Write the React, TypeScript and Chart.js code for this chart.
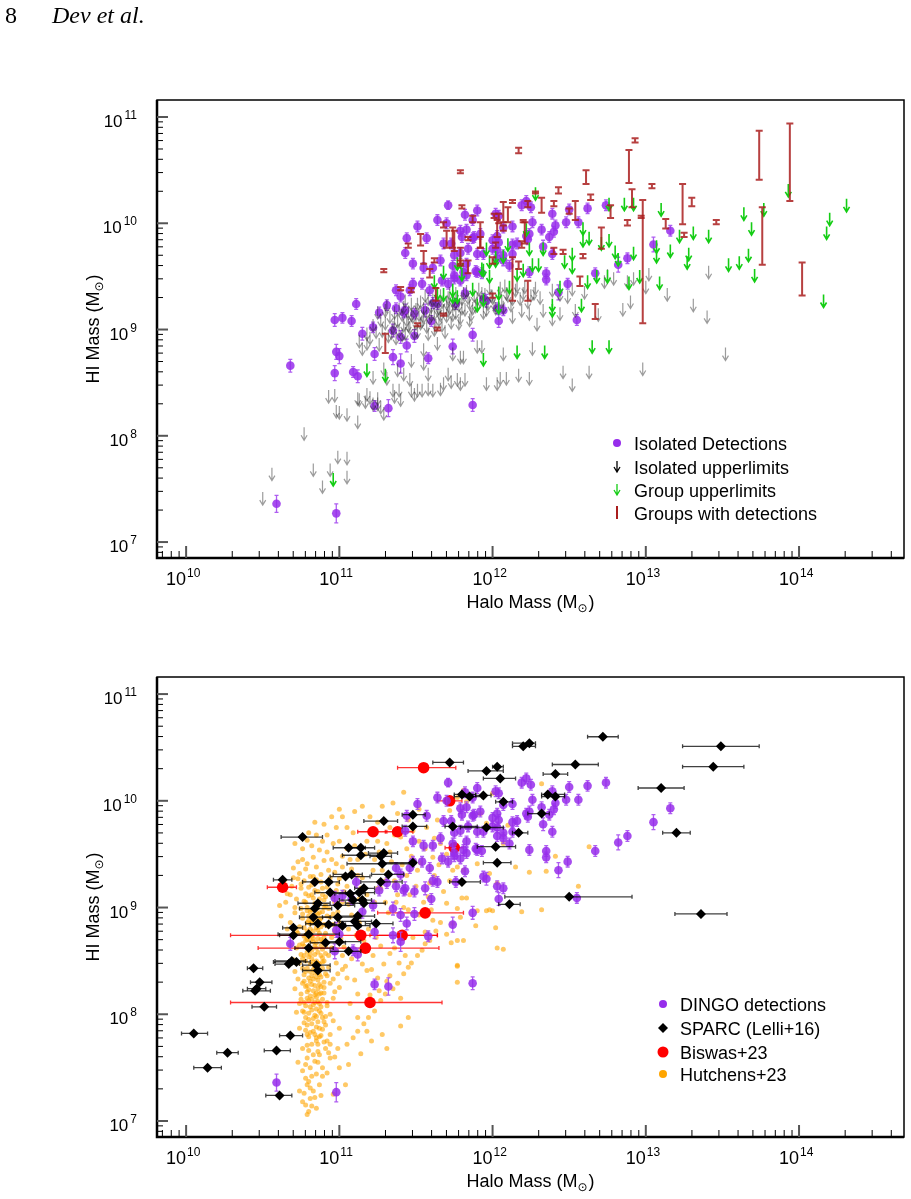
import React, { useEffect, useRef } from "react";
import { Chart, registerables } from "chart.js";

Chart.register(...registerables);

const SANS = '"Liberation Sans", Arial, Helvetica, sans-serif';
const SERIF = '"Liberation Serif", "Times New Roman", serif';

// Axis extents, in log10 of solar masses
const LOG_X_MIN = 9.81;
const LOG_X_MAX = 14.685;
const LOG_Y_MIN = 6.85;
const LOG_Y_MAX = 11.16;
const X_DECADES = [10, 11, 12, 13, 14];
const Y_DECADES = [7, 8, 9, 10, 11];

// DINGO isolated detections: [log Mhalo, log MHI, error (dex)]
const isoDetections: number[][] = [
  [10.68, 8.66, 0.06], [10.59, 7.36, 0.08], [10.98, 7.27, 0.09], [10.98, 8.79, 0.07], [11.0, 8.75, 0.07],
  [10.97, 8.59, 0.07], [11.09, 8.6, 0.05], [11.12, 8.56, 0.06], [11.15, 8.96, 0.06], [11.23, 8.77, 0.06],
  [11.35, 8.74, 0.07], [11.4, 8.68, 0.09], [11.44, 8.85, 0.06], [11.58, 8.73, 0.05], [11.74, 8.84, 0.07],
  [11.87, 8.95, 0.06], [11.23, 8.28, 0.05], [11.32, 8.26, 0.08], [11.87, 8.29, 0.06], [11.49, 8.94, 0.06],
  [11.4, 8.93, 0.06], [10.97, 9.09, 0.06], [11.02, 9.11, 0.05], [11.08, 9.08, 0.05], [11.11, 9.24, 0.05],
  [11.22, 9.02, 0.05], [11.26, 9.16, 0.05], [11.31, 9.23, 0.05], [11.37, 9.37, 0.05], [11.4, 9.31, 0.05],
  [11.43, 9.72, 0.05], [11.44, 9.86, 0.05], [11.48, 9.62, 0.05], [11.51, 9.97, 0.05], [11.57, 9.86, 0.05],
  [11.55, 9.58, 0.05], [11.54, 9.43, 0.05], [11.64, 10.03, 0.05], [11.71, 10.17, 0.04], [11.68, 9.81, 0.05],
  [11.73, 9.81, 0.05], [11.7, 10.0, 0.05], [11.79, 9.93, 0.05], [11.82, 10.08, 0.05], [11.84, 9.76, 0.05],
  [11.9, 10.12, 0.05], [11.87, 9.86, 0.05], [11.94, 9.71, 0.05], [12.02, 10.09, 0.05], [12.0, 9.84, 0.05],
  [12.03, 9.67, 0.05], [11.79, 9.46, 0.05], [11.83, 9.51, 0.05], [11.9, 9.54, 0.05], [11.96, 9.27, 0.06],
  [12.04, 9.08, 0.06], [11.82, 9.34, 0.05], [11.75, 9.51, 0.05], [11.66, 9.65, 0.05], [11.61, 9.58, 0.05],
  [11.59, 9.37, 0.05], [11.64, 9.24, 0.05], [11.48, 9.43, 0.05], [11.46, 9.37, 0.05], [11.43, 9.18, 0.06],
  [11.56, 9.18, 0.06], [11.67, 9.46, 0.05], [11.71, 9.43, 0.05], [11.35, 8.99, 0.06], [11.92, 9.9, 0.05],
  [11.87, 10.03, 0.05], [11.83, 9.94, 0.05], [11.88, 9.87, 0.05], [11.8, 9.87, 0.05], [11.79, 9.72, 0.05],
  [11.75, 9.7, 0.05], [11.83, 9.62, 0.05], [11.9, 9.71, 0.05], [11.89, 9.55, 0.05], [11.93, 9.53, 0.05],
  [11.81, 9.54, 0.05], [11.74, 9.6, 0.05], [11.75, 9.48, 0.05], [12.04, 10.07, 0.05], [12.03, 9.88, 0.05],
  [12.04, 9.82, 0.05], [12.0, 9.76, 0.05], [12.03, 9.75, 0.05], [12.07, 9.96, 0.05], [12.13, 9.97, 0.05],
  [12.07, 9.7, 0.05], [12.13, 9.8, 0.05], [12.16, 9.81, 0.05], [12.13, 9.71, 0.05], [12.07, 9.65, 0.05],
  [12.11, 9.6, 0.05], [12.19, 10.17, 0.05], [12.22, 10.21, 0.05], [12.25, 10.15, 0.05], [12.26, 10.01, 0.05],
  [12.24, 9.9, 0.05], [12.22, 9.88, 0.05], [12.23, 9.85, 0.05], [12.24, 9.54, 0.05], [12.32, 9.94, 0.05],
  [12.33, 9.78, 0.06], [12.37, 9.87, 0.05], [12.39, 9.71, 0.05], [12.39, 10.09, 0.05], [12.41, 9.98, 0.05],
  [12.4, 9.92, 0.05], [12.48, 10.01, 0.05], [12.5, 10.13, 0.05], [12.56, 10.01, 0.05], [12.62, 10.14, 0.05],
  [12.74, 10.17, 0.05], [12.43, 9.35, 0.07], [12.49, 9.43, 0.05], [12.35, 9.53, 0.05], [12.35, 9.47, 0.05],
  [12.55, 9.09, 0.05], [12.07, 9.18, 0.05], [12.03, 9.2, 0.05], [11.94, 9.29, 0.05], [11.76, 9.24, 0.05],
  [12.67, 9.53, 0.05], [12.82, 9.61, 0.07], [12.88, 9.67, 0.05], [13.05, 9.8, 0.07], [13.16, 9.93, 0.05],
  [11.37, 9.2, 0.05], [11.42, 9.16, 0.05], [11.61, 9.25, 0.05], [11.6, 9.08, 0.05], [11.49, 9.15, 0.05],
];

// Isolated upper limits: [log Mhalo, log MHI limit]
const isoUpperLimits: number[][] = [
  [10.5, 7.47], [10.56, 7.7], [10.77, 8.08], [10.83, 7.74], [10.89, 7.58], [10.94, 7.74], [10.99, 7.86],
  [11.05, 7.85], [11.05, 7.67], [10.93, 8.43], [10.97, 8.44], [10.98, 8.29], [11.0, 8.28], [11.05, 8.26],
  [11.12, 8.19], [11.12, 8.41], [11.13, 8.4], [11.18, 8.93], [11.18, 8.45], [11.17, 8.38], [11.2, 8.42],
  [11.22, 8.61], [11.22, 8.36], [11.25, 8.41], [11.25, 8.36], [11.27, 8.33], [11.29, 8.69], [11.31, 8.6],
  [11.29, 8.27], [11.35, 8.49], [11.36, 8.43], [11.39, 8.49], [11.4, 8.4], [11.38, 8.68], [11.42, 8.64],
  [11.47, 8.77], [11.46, 8.59], [11.47, 8.49], [11.49, 8.45], [11.51, 8.49], [11.54, 8.49], [11.55, 8.87],
  [11.55, 8.74], [11.58, 8.5], [11.61, 8.49], [11.58, 8.64], [11.64, 8.93], [11.66, 8.5], [11.68, 8.55],
  [11.71, 8.64], [11.73, 8.57], [11.79, 8.8], [11.81, 8.8], [11.77, 8.59], [11.82, 8.59], [11.9, 8.9],
  [11.93, 8.9], [11.96, 8.55], [12.03, 8.55], [11.79, 8.55], [11.74, 8.83], [12.07, 8.83], [12.05, 8.6],
  [12.09, 8.6], [12.17, 8.63], [12.24, 8.6], [12.26, 8.88], [12.46, 8.66], [12.52, 8.54], [12.63, 8.66],
  [12.98, 8.69], [13.52, 8.83], [13.02, 9.58], [13.0, 9.46], [13.14, 9.39], [13.41, 9.6], [13.31, 9.29],
  [13.4, 9.18], [12.9, 9.32], [12.85, 9.25], [12.92, 9.54], [12.88, 9.51], [12.79, 9.54], [12.75, 9.57],
  [12.73, 9.51], [12.69, 9.2], [12.6, 9.41], [12.54, 9.24], [12.49, 9.37], [12.44, 9.21], [12.39, 9.16],
  [12.33, 9.24], [12.29, 9.11], [12.24, 9.21], [12.19, 9.24], [12.13, 9.18], [12.44, 9.39], [12.39, 9.43],
  [12.52, 9.44], [11.2, 8.98], [11.24, 9.04], [11.26, 8.92], [11.15, 8.88], [11.3, 9.24],
  [11.28, 9.05], [11.3, 9.12], [11.32, 9.0], [11.33, 9.18], [11.35, 9.08], [11.36, 9.22], [11.37, 8.98],
  [11.38, 9.14], [11.39, 9.05], [11.41, 9.2], [11.42, 9.1], [11.42, 9.27], [11.43, 9.02], [11.44, 9.15],
  [11.45, 9.22], [11.46, 9.08], [11.47, 9.3], [11.48, 9.18], [11.5, 9.12], [11.5, 9.25], [11.51, 9.04],
  [11.52, 9.2], [11.53, 9.32], [11.54, 9.14], [11.55, 9.26], [11.57, 9.09], [11.57, 9.22], [11.58, 9.35],
  [11.59, 9.17], [11.6, 9.28], [11.62, 9.06], [11.62, 9.21], [11.63, 9.33], [11.65, 9.15], [11.65, 9.26],
  [11.66, 9.38], [11.67, 9.1], [11.68, 9.24], [11.7, 9.31], [11.7, 9.19], [11.71, 9.36], [11.72, 9.27],
  [11.73, 9.13], [11.74, 9.33], [11.76, 9.22], [11.76, 9.4], [11.78, 9.29], [11.79, 9.17], [11.8, 9.35],
  [11.82, 9.25], [11.83, 9.42], [11.85, 9.31], [11.86, 9.2], [11.88, 9.38], [11.89, 9.28], [11.91, 9.44],
  [11.92, 9.33], [11.94, 9.22], [11.95, 9.39], [11.97, 9.3], [11.98, 9.45], [12.0, 9.36], [12.02, 9.26],
  [12.04, 9.41], [12.06, 9.33], [12.08, 9.47], [12.1, 9.38], [12.12, 9.29], [12.15, 9.43], [12.18, 9.35],
  [12.21, 9.46], [12.25, 9.38], [12.28, 9.45], [12.31, 9.36],
  [11.27, 9.15], [11.31, 9.28], [11.34, 9.03], [11.36, 9.12], [11.39, 9.25], [11.41, 9.01], [11.43, 9.33],
  [11.45, 9.1], [11.47, 9.2], [11.49, 9.03], [11.51, 9.3], [11.53, 9.12], [11.55, 9.18], [11.56, 9.38],
  [11.58, 9.02], [11.6, 9.2], [11.61, 9.34], [11.63, 9.1], [11.64, 9.25], [11.66, 9.2], [11.67, 9.32],
  [11.69, 9.04], [11.71, 9.24], [11.72, 9.4], [11.74, 9.2], [11.75, 9.3], [11.77, 9.35], [11.78, 9.12],
  [11.8, 9.26], [11.81, 9.4], [11.84, 9.36], [11.85, 9.15], [11.87, 9.26], [11.9, 9.35], [11.93, 9.4],
  [11.96, 9.25], [11.99, 9.38], [12.01, 9.3], [12.05, 9.45], [12.07, 9.27], [12.09, 9.4], [12.13, 9.35],
  [12.16, 9.47], [12.2, 9.4], [12.23, 9.32], [12.27, 9.4], [11.22, 9.1], [11.18, 9.02], [11.25, 9.22],
  [11.13, 8.95],
];

// Group upper limits: [log Mhalo, log MHI limit]
const groupUpperLimits: number[][] = [
  [12.28, 10.34], [12.76, 10.24], [12.86, 10.24], [12.92, 10.24], [13.1, 10.19], [13.93, 10.37],
  [13.77, 10.19], [14.31, 10.23], [14.2, 10.1], [14.18, 9.97], [13.64, 10.15], [13.69, 10.01],
  [13.41, 9.94], [13.31, 9.97], [13.22, 9.94], [13.28, 9.77], [13.27, 9.69], [13.16, 9.8], [13.07, 9.75],
  [13.07, 9.84], [13.54, 9.67], [13.61, 9.69], [13.67, 9.76], [13.71, 9.57], [14.16, 9.33], [13.09, 9.5],
  [12.96, 9.56], [12.89, 9.5], [12.92, 9.78], [12.8, 9.79], [12.82, 9.72], [12.76, 9.9], [12.71, 9.87],
  [12.63, 9.92], [12.59, 10.01], [12.59, 9.9], [12.75, 9.56], [12.68, 9.56], [12.62, 9.51], [12.58, 9.29],
  [12.39, 9.24], [12.44, 9.46], [12.47, 9.7], [12.52, 9.77], [12.52, 9.65], [12.33, 9.82], [12.3, 9.67],
  [12.24, 9.82], [12.22, 10.0], [12.26, 9.67], [12.2, 9.62], [12.16, 9.58], [12.1, 9.86], [12.07, 9.75],
  [12.02, 9.71], [11.98, 9.7], [11.94, 9.62], [11.96, 9.82], [11.98, 9.56], [12.04, 9.4], [12.11, 9.46],
  [11.87, 9.44], [11.79, 9.7], [11.77, 9.37], [11.74, 9.43], [11.94, 9.34], [12.39, 9.29], [12.02, 9.74],
  [11.93, 9.63], [11.77, 9.68], [11.8, 9.58], [11.68, 9.6], [11.62, 9.51], [11.64, 9.4], [11.68, 9.39],
  [11.74, 9.37], [11.9, 9.29], [12.04, 9.27], [11.18, 8.68], [11.3, 8.63], [10.96, 7.65], [11.94, 8.78],
  [12.16, 8.85], [12.34, 8.85], [12.65, 8.9], [12.76, 8.9],
];

// Groups with detections: [log Mhalo, log MHI low, log MHI high]
const groupDetections: number[][] = [
  [11.79, 10.47, 10.5], [12.17, 10.66, 10.71], [12.93, 10.76, 10.8], [12.89, 10.38, 10.69],
  [13.04, 10.33, 10.37], [13.24, 9.99, 10.37], [13.3, 10.16, 10.24], [13.46, 9.99, 10.03],
  [13.74, 10.41, 10.87], [13.94, 10.21, 10.94], [13.76, 9.61, 10.15], [14.02, 9.32, 9.63],
  [12.98, 9.06, 10.22], [12.97, 10.05, 10.07], [13.13, 9.95, 10.04], [13.25, 9.87, 9.91],
  [12.88, 9.98, 10.03], [12.91, 10.15, 10.32], [12.77, 10.05, 10.17], [12.71, 9.76, 9.96],
  [12.67, 9.1, 9.24], [12.61, 10.37, 10.5], [12.64, 10.22, 10.27], [12.57, 9.41, 9.5],
  [12.59, 9.67, 9.71], [12.54, 10.03, 10.21], [12.5, 10.09, 10.14], [12.43, 10.28, 10.34],
  [12.4, 10.16, 10.21], [12.32, 10.1, 10.24], [12.28, 10.28, 10.3], [12.23, 10.15, 10.21],
  [12.2, 10.01, 10.03], [12.21, 9.81, 10.01], [12.19, 9.77, 9.83], [12.23, 9.27, 9.46],
  [12.17, 9.57, 9.64], [12.13, 9.27, 9.68], [12.13, 10.19, 10.22], [12.07, 10.01, 10.2],
  [12.1, 10.01, 10.15], [12.04, 10.0, 10.09], [12.07, 9.93, 9.98], [12.02, 9.77, 9.82],
  [12.0, 9.3, 9.34], [12.0, 9.62, 9.68], [11.92, 9.77, 10.01], [11.87, 10.01, 10.07],
  [11.8, 10.14, 10.17], [11.74, 9.77, 9.96], [11.84, 9.53, 9.65], [11.79, 9.6, 9.65],
  [12.4, 9.71, 9.77], [12.46, 9.71, 9.75], [11.29, 9.54, 9.57], [11.45, 9.77, 9.81],
  [11.53, 9.79, 9.9], [11.4, 9.37, 9.4], [11.47, 9.35, 9.39], [11.55, 9.62, 9.74],
  [11.59, 9.49, 9.57], [11.62, 9.63, 9.67], [11.68, 9.96, 10.01], [11.7, 9.77, 9.93],
  [11.75, 9.74, 9.93], [11.79, 9.62, 9.77], [11.84, 9.84, 9.87], [11.92, 9.77, 9.87],
  [11.63, 9.27, 9.39], [11.64, 8.99, 9.02], [11.68, 9.13, 9.15], [11.51, 9.03, 9.06],
  [12.01, 10.05, 10.09], [12.03, 9.87, 10.03], [11.3, 8.78, 8.96],
];

// SPARC (Lelli+16): [log Mhalo, log MHI, log Mhalo low, log Mhalo high]
const sparcGalaxies: number[][] = [
  [11.72, 10.36, 11.61, 11.81], [11.96, 10.28, 11.84, 12.07], [12.03, 10.32, 12.0, 12.07],
  [12.05, 10.21, 11.94, 12.15], [12.2, 10.51, 12.13, 12.28], [12.24, 10.54, 12.13, 12.28],
  [12.72, 10.6, 12.62, 12.82], [13.49, 10.51, 13.24, 13.74], [13.44, 10.32, 13.24, 13.64],
  [12.54, 10.34, 12.39, 12.69], [12.41, 10.25, 12.33, 12.49], [13.1, 10.12, 12.95, 13.25],
  [13.2, 9.7, 13.11, 13.29], [13.36, 8.94, 13.19, 13.53], [12.5, 9.1, 12.08, 12.91],
  [12.11, 9.03, 12.04, 12.18], [11.8, 9.24, 11.72, 11.92], [12.03, 9.42, 11.94, 12.12],
  [12.02, 9.57, 11.9, 12.15], [12.17, 9.7, 12.13, 12.23], [12.32, 9.88, 12.23, 12.37],
  [12.36, 10.06, 12.32, 12.47], [12.41, 10.04, 12.32, 12.47], [12.07, 9.99, 12.02, 12.13],
  [11.94, 10.05, 11.89, 11.99], [11.85, 10.04, 11.75, 11.93], [11.8, 10.06, 11.75, 11.89],
  [11.74, 9.76, 11.69, 11.9], [11.96, 9.75, 11.79, 12.07], [10.76, 9.66, 10.62, 10.89],
  [11.29, 9.81, 11.16, 11.38], [11.48, 9.87, 11.41, 11.56], [11.48, 9.76, 11.41, 11.57],
  [11.06, 9.56, 10.96, 11.17], [11.14, 9.56, 11.07, 11.23], [11.14, 9.49, 11.02, 11.25],
  [11.29, 9.51, 11.19, 11.38], [11.27, 9.48, 11.2, 11.34], [11.28, 9.41, 11.05, 11.48],
  [11.48, 9.42, 11.28, 11.49], [11.32, 9.31, 11.21, 11.42], [11.27, 9.24, 11.14, 11.41],
  [11.04, 9.29, 10.94, 11.2], [11.08, 9.31, 10.96, 11.15], [10.93, 9.24, 10.83, 11.0],
  [10.84, 9.24, 10.76, 10.95], [10.63, 9.26, 10.57, 10.69], [10.94, 9.14, 10.84, 11.14],
  [11.07, 9.13, 10.97, 11.17], [11.13, 9.14, 11.04, 11.23], [11.16, 9.18, 11.1, 11.23],
  [11.09, 9.07, 11.0, 11.17], [11.15, 9.07, 11.07, 11.21], [10.86, 9.04, 10.73, 10.94],
  [10.84, 8.99, 10.74, 10.95], [10.99, 9.02, 10.87, 11.1], [11.16, 9.04, 11.04, 11.3],
  [10.83, 8.91, 10.74, 10.94], [10.99, 8.91, 10.89, 11.14], [11.12, 8.92, 11.0, 11.23],
  [10.86, 8.85, 10.78, 10.97], [10.93, 8.84, 10.81, 11.04], [11.02, 8.83, 10.91, 11.14],
  [11.1, 8.87, 11.0, 11.21], [11.12, 8.83, 11.04, 11.2], [11.24, 8.85, 11.17, 11.35],
  [10.7, 8.81, 10.63, 10.76], [10.7, 8.74, 10.61, 10.81], [10.8, 8.75, 10.6, 11.0],
  [10.91, 8.67, 10.81, 11.04], [11.0, 8.68, 10.91, 11.14], [10.8, 8.62, 10.71, 10.96],
  [11.06, 8.59, 10.94, 11.14], [10.69, 8.5, 10.58, 10.78], [10.67, 8.47, 10.58, 10.74],
  [10.72, 8.49, 10.57, 10.81], [10.85, 8.46, 10.76, 10.94], [10.86, 8.41, 10.76, 10.94],
  [10.44, 8.43, 10.4, 10.5], [10.48, 8.3, 10.42, 10.56], [10.46, 8.24, 10.4, 10.52],
  [10.45, 8.22, 10.37, 10.55], [10.51, 8.07, 10.43, 10.59], [10.05, 7.82, 9.97, 10.14],
  [10.27, 7.64, 10.2, 10.34], [10.14, 7.5, 10.05, 10.23], [10.68, 7.8, 10.61, 10.76],
  [10.59, 7.66, 10.51, 10.68], [10.61, 7.24, 10.52, 10.69],
];

// Biswas+23: [log Mhalo, log MHI, log Mhalo low, log Mhalo high]
const biswasGalaxies: number[][] = [
  [11.55, 10.31, 11.38, 11.76], [11.72, 10.0, 11.64, 11.8], [11.22, 9.71, 11.12, 11.31],
  [11.38, 9.71, 11.3, 11.48], [10.63, 9.19, 10.53, 10.72], [11.75, 9.56, 11.69, 11.81],
  [11.56, 8.95, 11.25, 11.81], [11.14, 8.74, 10.29, 11.64], [11.41, 8.74, 11.2, 11.64],
  [11.17, 8.62, 10.47, 11.65], [11.2, 8.11, 10.29, 11.67],
];

// Hutchens+23: [log Mhalo, log MHI]
const hutchensGalaxies: number[][] = [
  [10.74, 9.32], [10.79, 9.41], [10.83, 9.47], [10.87, 9.54], [10.96, 9.6], [10.78, 9.36], [10.85, 9.38],
  [10.9, 9.44], [10.81, 9.29], [10.88, 9.31], [10.93, 9.35], [10.76, 9.45], [10.98, 9.41], [11.02, 9.48],
  [10.7, 9.37], [10.61, 9.02], [10.66, 9.13], [10.72, 9.08], [10.75, 9.18], [10.77, 9.25], [10.8, 9.11],
  [10.82, 9.21], [10.84, 9.04], [10.86, 9.15], [10.88, 9.24], [10.9, 9.07], [10.92, 9.19], [10.94, 9.28],
  [10.96, 9.1], [10.99, 9.22], [11.03, 9.15], [11.06, 9.03], [10.73, 9.27], [10.79, 9.0], [10.83, 9.29],
  [10.89, 9.12], [10.69, 9.2], [10.64, 9.25], [10.77, 9.06], [10.91, 9.02], [10.71, 8.95], [10.74, 8.82],
  [10.76, 8.9], [10.78, 8.74], [10.79, 8.97], [10.81, 8.85], [10.83, 8.71], [10.84, 8.93], [10.86, 8.79],
  [10.87, 8.88], [10.89, 8.96], [10.9, 8.72], [10.92, 8.83], [10.94, 8.91], [10.97, 8.77], [11.0, 8.86],
  [10.73, 8.76], [10.8, 8.92], [10.85, 8.81], [10.88, 8.7], [10.82, 8.98], [10.75, 8.99], [10.93, 8.99],
  [10.68, 8.86], [10.96, 8.94], [10.72, 8.62], [10.74, 8.48], [10.76, 8.66], [10.77, 8.55], [10.79, 8.43],
  [10.8, 8.61], [10.82, 8.52], [10.83, 8.68], [10.84, 8.45], [10.86, 8.58], [10.87, 8.41], [10.88, 8.64],
  [10.9, 8.5], [10.91, 8.57], [10.93, 8.44], [10.95, 8.62], [10.78, 8.69], [10.81, 8.47], [10.85, 8.67],
  [10.89, 8.53], [10.75, 8.56], [10.92, 8.67], [10.98, 8.48], [10.7, 8.51], [10.73, 8.33], [10.75, 8.19],
  [10.77, 8.37], [10.78, 8.26], [10.8, 8.13], [10.81, 8.31], [10.83, 8.22], [10.84, 8.39], [10.85, 8.16],
  [10.87, 8.28], [10.88, 8.35], [10.9, 8.2], [10.92, 8.11], [10.94, 8.29], [10.79, 8.21], [10.82, 8.36],
  [10.86, 8.24], [10.89, 8.14], [10.76, 8.29], [10.91, 8.38], [10.74, 8.1], [10.97, 8.21], [10.96, 8.33],
  [10.74, 7.87], [10.76, 8.03], [10.78, 7.97], [10.79, 7.81], [10.81, 8.07], [10.82, 7.91], [10.84, 7.99],
  [10.85, 8.05], [10.85, 7.78], [10.87, 7.87], [10.88, 8.01], [10.9, 7.93], [10.92, 8.08], [10.94, 7.81],
  [10.8, 7.95], [10.83, 7.84], [10.86, 7.93], [10.89, 7.86], [10.77, 7.92], [10.91, 7.98], [10.96, 7.94],
  [10.94, 8.0], [10.79, 7.06], [10.8, 7.09], [10.76, 7.18], [10.81, 7.21], [10.74, 7.28], [10.83, 7.28],
  [10.79, 7.34], [10.87, 7.34], [10.85, 7.44], [10.76, 7.47], [10.81, 7.5], [10.89, 7.5], [10.84, 7.56],
  [10.79, 7.59], [10.94, 7.59], [10.86, 7.65], [10.76, 7.68], [10.82, 7.72], [10.91, 7.68], [10.85, 7.75],
  [10.79, 7.71], [10.94, 7.72], [10.87, 7.62], [10.78, 7.4], [10.82, 7.14], [10.88, 7.24], [10.92, 7.45],
  [10.96, 7.25], [11.04, 7.34], [10.73, 7.55], [11.0, 7.5], [11.06, 7.53], [11.14, 7.63], [10.99, 7.68],
  [11.05, 7.72], [11.09, 7.78], [11.12, 7.84], [11.16, 7.91], [11.19, 7.97], [11.23, 8.03], [11.27, 8.13],
  [11.3, 8.19], [11.35, 8.24], [11.38, 8.29], [11.42, 8.38], [11.45, 8.44], [11.47, 8.48], [11.51, 8.55],
  [11.54, 8.6], [11.56, 8.66], [11.59, 8.69], [11.12, 7.97], [11.18, 7.84], [11.31, 8.31], [11.4, 8.15],
  [11.25, 8.34], [11.18, 8.41], [11.12, 8.19], [11.05, 8.34], [11.0, 8.25], [10.96, 8.15], [11.0, 7.87],
  [10.92, 7.75], [11.45, 7.97], [11.4, 7.89], [11.28, 7.81], [11.31, 7.68], [11.21, 7.75], [11.02, 8.42],
  [11.08, 8.52], [11.14, 8.6], [11.22, 8.55], [11.29, 8.47], [11.36, 8.62], [11.48, 8.72], [11.63, 8.78],
  [10.84, 9.8], [11.42, 10.08], [11.33, 9.75], [11.09, 9.7], [11.22, 9.35], [11.31, 9.6], [11.4, 9.66],
  [11.48, 9.72], [11.57, 9.75], [11.64, 9.82], [11.72, 9.91], [11.77, 10.03], [11.81, 10.1], [11.61, 9.47],
  [11.74, 9.35], [11.83, 9.09], [11.96, 8.97], [11.51, 9.35], [11.59, 9.23], [11.7, 9.04], [11.79, 8.91],
  [11.05, 9.55], [11.12, 9.45], [11.18, 9.62], [11.26, 9.52], [11.34, 9.43], [11.44, 9.55], [11.52, 9.62],
  [11.15, 9.28], [11.25, 9.18], [11.36, 9.25], [11.46, 9.12], [11.55, 9.05], [11.1, 9.9], [11.2, 9.85],
  [11.28, 9.95], [11.38, 9.88], [11.52, 9.92], [10.98, 9.75], [11.02, 9.85], [10.92, 9.68], [11.66, 9.6],
  [11.7, 9.5], [11.62, 9.3], [11.42, 9.0], [11.3, 9.05], [11.18, 9.12], [11.08, 9.36], [11.0, 9.62],
  [10.71, 9.6], [11.83, 9.99], [11.92, 9.88], [11.96, 9.79], [12.0, 10.07], [12.1, 9.77], [12.07, 9.6],
  [12.15, 9.38], [12.24, 9.33], [12.35, 9.34], [12.41, 9.48], [12.32, 10.16], [12.63, 9.57], [12.56, 9.2],
  [12.32, 8.98], [12.19, 8.96], [12.0, 8.97], [11.98, 8.98], [11.9, 8.97], [11.89, 8.83], [12.02, 8.81],
  [11.8, 9.09], [11.81, 9.35], [11.77, 9.38], [11.9, 9.41], [11.98, 9.32], [12.03, 9.23], [11.77, 8.99],
  [11.77, 8.69], [11.81, 8.69], [11.73, 8.67], [12.03, 8.62], [12.07, 8.61], [11.77, 8.46], [11.77, 8.3],
  [11.61, 8.88], [11.74, 8.85], [11.56, 8.77], [11.77, 8.45], [10.62, 8.92], [10.66, 8.8], [10.65, 9.05],
  [10.68, 8.65], [10.77, 8.02], [10.8, 8.88], [10.82, 8.6], [10.85, 8.35], [10.87, 8.95], [10.79, 8.15],
  [10.83, 8.78], [10.86, 8.48], [10.88, 8.07], [10.81, 8.4], [10.84, 8.11], [10.78, 8.5], [10.86, 8.71],
  [10.8, 8.23], [10.89, 8.43], [10.83, 9.09], [10.77, 8.81], [10.85, 8.9], [10.81, 8.69], [10.87, 8.19],
  [10.79, 8.58], [10.84, 8.27], [10.88, 8.82], [10.82, 8.04], [10.86, 8.39], [10.8, 8.75], [10.84, 9.16],
  [10.78, 9.13], [10.83, 7.96], [10.87, 7.79], [10.81, 7.83], [10.79, 7.9], [10.85, 7.88], [10.88, 8.55],
  [10.9, 8.3], [10.76, 8.43], [10.74, 8.65], [10.91, 8.76], [10.93, 8.55], [10.9, 9.0], [10.82, 8.14],
  [10.8, 8.34], [10.85, 8.62], [10.87, 8.1], [10.83, 8.49], [10.79, 8.78], [10.86, 9.0], [10.81, 8.96],
  [10.84, 8.56], [10.88, 8.26], [10.78, 8.08], [10.82, 8.87], [10.86, 8.32], [10.8, 8.54], [10.85, 8.2],
  [10.77, 8.73], [10.83, 8.42], [10.89, 8.61], [10.81, 8.17], [10.87, 8.47],
  [10.75, 9.22], [10.78, 9.05], [10.8, 9.19], [10.82, 9.12], [10.85, 9.26], [10.87, 9.08], [10.89, 9.18],
  [10.91, 9.1], [10.93, 9.23], [10.76, 8.94], [10.79, 8.86], [10.81, 8.8], [10.84, 8.86], [10.86, 8.94],
  [10.88, 8.9], [10.9, 8.84], [10.92, 8.92], [10.77, 8.64], [10.79, 8.7], [10.82, 8.73], [10.84, 8.64],
  [10.87, 8.76], [10.89, 8.68], [10.91, 8.64], [10.76, 8.52], [10.78, 8.4], [10.81, 8.56], [10.83, 8.33],
  [10.85, 8.5], [10.87, 8.37], [10.89, 8.49], [10.92, 8.36], [10.77, 8.31], [10.79, 8.27], [10.82, 8.28],
  [10.84, 8.18], [10.86, 8.12], [10.88, 8.2], [10.9, 8.25], [10.75, 8.14], [10.77, 8.11], [10.8, 8.01],
  [10.83, 8.09], [10.85, 7.98], [10.87, 8.03], [10.89, 7.97], [10.91, 7.9], [10.78, 7.85], [10.8, 7.79],
  [10.84, 7.81], [10.86, 7.72], [10.88, 7.8], [10.9, 7.74], [10.8, 7.66], [10.83, 7.62], [10.78, 7.53],
  [10.82, 7.42], [10.86, 7.55], [10.8, 7.37], [10.84, 7.22], [10.77, 7.26], [10.85, 7.12], [10.81, 7.31],
  [10.78, 7.15], [10.89, 7.42], [10.93, 7.64], [10.97, 7.6], [10.72, 8.02], [10.71, 8.24], [10.71, 8.4],
  [10.72, 8.78], [10.71, 9.0], [10.95, 8.72], [10.96, 8.84], [10.97, 9.05], [10.99, 8.96], [11.01, 8.71],
  [10.98, 8.6], [11.02, 8.55], [10.99, 8.38], [11.04, 8.45], [11.03, 8.63], [11.06, 8.8], [11.08, 8.93],
  [11.11, 8.74], [11.13, 8.86], [11.16, 8.69], [11.19, 8.8], [11.24, 8.72], [11.27, 8.64], [11.33, 8.57],
  [11.39, 8.48], [11.43, 8.55], [11.07, 8.1], [11.1, 8.32], [11.15, 8.47], [11.21, 8.42], [11.26, 8.22],
  [11.33, 8.36], [11.2, 8.18], [10.68, 9.12], [10.7, 9.28], [10.73, 9.43], [10.76, 9.55], [10.79, 9.63],
  [10.82, 9.58], [10.85, 9.68], [10.89, 9.62], [10.92, 9.52], [10.95, 9.45], [10.97, 9.33], [11.0, 9.27],
  [11.02, 9.38], [11.05, 9.2], [11.07, 9.45], [11.1, 9.58], [11.12, 9.3], [11.14, 9.18], [11.17, 9.5],
  [11.2, 9.72], [11.23, 9.45], [11.25, 9.62], [11.28, 9.35], [11.3, 9.25], [11.33, 9.52], [11.36, 9.68],
  [11.38, 9.12], [11.41, 9.4], [11.44, 9.3], [11.47, 9.48], [11.5, 9.2], [11.53, 9.42], [11.56, 9.55],
  [11.58, 9.1], [11.62, 9.65], [11.65, 9.4], [11.68, 9.15], [11.72, 9.25], [11.75, 9.58], [10.8, 9.7],
  [10.9, 9.78], [11.0, 9.92], [11.15, 9.95], [11.25, 9.8], [11.35, 9.98], [11.45, 9.82], [10.95, 9.85],
  [11.05, 9.75], [11.13, 9.08], [11.23, 9.05], [11.27, 9.18], [11.32, 8.95], [11.37, 9.05], [11.45, 8.98],
  [11.52, 8.93], [11.6, 8.98], [11.66, 8.86], [11.7, 8.75], [11.02, 9.05], [10.98, 9.16],
];

const PURPLE = "rgba(150,45,235,0.85)";
const PURPLE_BAR = "rgba(165,75,240,0.9)";
const GREY_ARROW = "rgba(35,35,35,0.45)";
const GREEN = "rgb(20,205,20)";
const GROUP_RED = "rgba(170,30,30,0.85)";
const ORANGE = "rgba(255,165,0,0.6)";
const BISWAS_RED = "rgb(255,0,0)";

const dex = (v: number) => Math.pow(10, v);

type LegendRow = { mark: string; color: string; label: string };

function drawArrow(ctx: CanvasRenderingContext2D, x: number, y: number, len: number) {
  ctx.beginPath();
  ctx.moveTo(x, y);
  ctx.lineTo(x, y + len);
  ctx.moveTo(x - 3, y + len - 5);
  ctx.lineTo(x, y + len);
  ctx.lineTo(x + 3, y + len - 5);
  ctx.stroke();
}

function drawMassTitle(ctx: CanvasRenderingContext2D, cx: number, base: number, text: string) {
  ctx.font = `18px ${SANS}`;
  const w1 = ctx.measureText(text).width;
  const w3 = ctx.measureText(")").width;
  ctx.font = `12px "DejaVu Sans", ${SANS}`;
  const w2 = ctx.measureText("\u2299").width;
  let x = cx - (w1 + w2 + w3 + 1) / 2;
  ctx.textAlign = "left";
  ctx.textBaseline = "alphabetic";
  ctx.font = `18px ${SANS}`;
  ctx.fillText(text, x, base);
  x += w1;
  ctx.font = `12px "DejaVu Sans", ${SANS}`;
  ctx.fillText("\u2299", x, base + 4);
  x += w2 + 1;
  ctx.font = `18px ${SANS}`;
  ctx.fillText(")", x, base);
}

function decorPlugin(legend: LegendRow[], legendX: number, legendY: number[], withHeader: boolean) {
  return {
    id: "decor",
    beforeDatasetDraw(chart: any, args: any) {
      const ds: any = chart.data.datasets[args.index];
      const ctx: CanvasRenderingContext2D = chart.ctx;
      const xs = chart.scales.x;
      const ys = chart.scales.y;
      const pts = args.meta.data;
      ctx.save();
      if (ds.kind === "det") {
        ctx.strokeStyle = PURPLE_BAR;
        ctx.lineWidth = 1.3;
        ds.data.forEach((d: any, i: number) => {
          const px = pts[i].x;
          const y1 = ys.getPixelForValue(d.lo);
          const y2 = ys.getPixelForValue(d.hi);
          ctx.beginPath();
          ctx.moveTo(px, y1);
          ctx.lineTo(px, y2);
          ctx.moveTo(px - 2, y1);
          ctx.lineTo(px + 2, y1);
          ctx.moveTo(px - 2, y2);
          ctx.lineTo(px + 2, y2);
          ctx.stroke();
        });
      } else if (ds.kind === "xbar") {
        ctx.strokeStyle = ds.barColor;
        ctx.lineWidth = 1.3;
        ds.data.forEach((d: any, i: number) => {
          const py = pts[i].y;
          const x1 = xs.getPixelForValue(d.xlo);
          const x2 = xs.getPixelForValue(d.xhi);
          ctx.beginPath();
          ctx.moveTo(x1, py);
          ctx.lineTo(x2, py);
          ctx.moveTo(x1, py - 2);
          ctx.lineTo(x1, py + 2);
          ctx.moveTo(x2, py - 2);
          ctx.lineTo(x2, py + 2);
          ctx.stroke();
        });
      }
      ctx.restore();
    },
    afterDatasetDraw(chart: any, args: any) {
      const ds: any = chart.data.datasets[args.index];
      const ctx: CanvasRenderingContext2D = chart.ctx;
      const ys = chart.scales.y;
      const pts = args.meta.data;
      ctx.save();
      if (ds.kind === "arrow") {
        ctx.strokeStyle = ds.arrowColor;
        ctx.lineWidth = ds.arrowWidth;
        pts.forEach((p: any) => drawArrow(ctx, p.x, p.y, 13));
      } else if (ds.kind === "ybar") {
        ctx.strokeStyle = GROUP_RED;
        ctx.lineWidth = 2;
        ds.data.forEach((d: any, i: number) => {
          const px = pts[i].x;
          const y1 = ys.getPixelForValue(d.lo);
          const y2 = ys.getPixelForValue(d.hi);
          ctx.beginPath();
          ctx.moveTo(px, y1);
          ctx.lineTo(px, y2);
          ctx.moveTo(px - 3.5, y1);
          ctx.lineTo(px + 3.5, y1);
          ctx.moveTo(px - 3.5, y2);
          ctx.lineTo(px + 3.5, y2);
          ctx.stroke();
        });
      }
      ctx.restore();
    },
    afterDraw(chart: any) {
      const ctx: CanvasRenderingContext2D = chart.ctx;
      const a = chart.chartArea;
      const xs = chart.scales.x;
      const ys = chart.scales.y;
      ctx.save();
      // frame
      ctx.strokeStyle = "#000";
      ctx.lineWidth = 1.5;
      ctx.strokeRect(a.left, a.top, a.right - a.left, a.bottom - a.top);
      ctx.lineWidth = 2.5;
      ctx.beginPath();
      ctx.moveTo(a.left, a.top);
      ctx.lineTo(a.left, a.bottom);
      ctx.lineTo(a.right, a.bottom);
      ctx.stroke();

      // log ticks on the left and bottom axes, pointing inwards
      for (let e = 6; e <= 11; e++) {
        for (let m = 1; m <= 9; m++) {
          const py = ys.getPixelForValue(m * dex(e));
          if (py < a.top + 1 || py > a.bottom - 1) continue;
          const major = m === 1;
          ctx.strokeStyle = major ? "#555" : "#000";
          ctx.lineWidth = major ? 2 : 1;
          ctx.beginPath();
          ctx.moveTo(a.left, py);
          ctx.lineTo(a.left + (major ? 11 : 6), py);
          ctx.stroke();
        }
      }
      for (let e = 9; e <= 14; e++) {
        for (let m = 1; m <= 9; m++) {
          const px = xs.getPixelForValue(m * dex(e));
          if (px < a.left + 1 || px > a.right - 1) continue;
          const major = m === 1;
          ctx.strokeStyle = major ? "#555" : "#000";
          ctx.lineWidth = major ? 2 : 1;
          ctx.beginPath();
          ctx.moveTo(px, a.bottom);
          ctx.lineTo(px, a.bottom - (major ? 12 : 7));
          ctx.stroke();
        }
      }

      // tick labels 10^n
      ctx.fillStyle = "#000";
      ctx.textBaseline = "alphabetic";
      Y_DECADES.forEach((e) => {
        const py = ys.getPixelForValue(dex(e));
        ctx.font = `17px ${SANS}`;
        const wb = ctx.measureText("10").width;
        ctx.font = `12px ${SANS}`;
        const we = ctx.measureText(String(e)).width;
        const right = a.left - 20;
        const x0 = right - (wb + 2 + we);
        ctx.textAlign = "left";
        ctx.font = `17px ${SANS}`;
        ctx.fillText("10", x0, py + 10);
        ctx.font = `12px ${SANS}`;
        ctx.fillText(String(e), x0 + wb + 2, py + 2);
      });
      X_DECADES.forEach((e) => {
        const px = xs.getPixelForValue(dex(e));
        ctx.font = `18px ${SANS}`;
        ctx.textAlign = "right";
        ctx.fillText("10", px, a.bottom + 27);
        ctx.font = `12px ${SANS}`;
        ctx.textAlign = "left";
        ctx.fillText(String(e), px + 1, a.bottom + 19);
      });

      // axis titles
      drawMassTitle(ctx, (a.left + a.right) / 2, a.bottom + 50, "Halo Mass (M");
      ctx.save();
      ctx.translate(99, (a.top + a.bottom) / 2);
      ctx.rotate(-Math.PI / 2);
      drawMassTitle(ctx, 0, 0, "HI Mass (M");
      ctx.restore();

      // legend
      legend.forEach((row, i) => {
        const cy = legendY[i];
        const mx = legendX;
        ctx.fillStyle = row.color;
        ctx.strokeStyle = row.color;
        if (row.mark === "dot" || row.mark === "bigdot") {
          ctx.beginPath();
          ctx.arc(mx, cy, row.mark === "bigdot" ? 5.5 : 4, 0, Math.PI * 2);
          ctx.fill();
        } else if (row.mark === "diamond") {
          ctx.beginPath();
          ctx.moveTo(mx, cy - 5);
          ctx.lineTo(mx + 5, cy);
          ctx.lineTo(mx, cy + 5);
          ctx.lineTo(mx - 5, cy);
          ctx.closePath();
          ctx.fill();
        } else if (row.mark === "arrow") {
          ctx.lineWidth = 1.3;
          drawArrow(ctx, mx, cy - 6, 11);
        } else if (row.mark === "bar") {
          ctx.lineWidth = 2;
          ctx.beginPath();
          ctx.moveTo(mx, cy - 7);
          ctx.lineTo(mx, cy + 6);
          ctx.stroke();
        }
        ctx.fillStyle = "#000";
        ctx.font = `18px ${SANS}`;
        ctx.textAlign = "left";
        ctx.textBaseline = "alphabetic";
        ctx.fillText(row.label, legendX + 17, cy + 6.5);
      });

      if (withHeader) {
        ctx.fillStyle = "#000";
        ctx.textAlign = "left";
        ctx.textBaseline = "alphabetic";
        ctx.font = `24px ${SERIF}`;
        ctx.fillText("8", 5, 23);
        ctx.font = `italic 24px ${SERIF}`;
        ctx.fillText("Dev et al.", 52, 23);
      }
      ctx.restore();
    },
  };
}

const detectionData = () =>
  isoDetections.map(([m, h, e]) => ({ x: dex(m), y: dex(h), lo: dex(h - e), hi: dex(h + e) }));

function scales() {
  return {
    x: { type: "logarithmic", min: dex(LOG_X_MIN), max: dex(LOG_X_MAX), display: false },
    y: { type: "logarithmic", min: dex(LOG_Y_MIN), max: dex(LOG_Y_MAX), display: false },
  };
}

function topDatasets() {
  return [
    {
      kind: "ybar",
      data: groupDetections.map(([m, lo, hi]) => ({ x: dex(m), y: dex((lo + hi) / 2), lo: dex(lo), hi: dex(hi) })),
      pointRadius: 0,
    },
    {
      kind: "arrow",
      arrowColor: GREEN,
      arrowWidth: 1.6,
      data: groupUpperLimits.map(([m, h]) => ({ x: dex(m), y: dex(h) })),
      pointRadius: 0,
    },
    {
      kind: "arrow",
      arrowColor: GREY_ARROW,
      arrowWidth: 1.2,
      data: isoUpperLimits.map(([m, h]) => ({ x: dex(m), y: dex(h) })),
      pointRadius: 0,
    },
    {
      kind: "det",
      data: detectionData(),
      pointRadius: 4.3,
      backgroundColor: PURPLE,
      borderWidth: 0,
    },
  ];
}

function bottomDatasets() {
  return [
    {
      kind: "xbar",
      barColor: "rgba(0,0,0,0.75)",
      data: sparcGalaxies.map(([m, h, lo, hi]) => ({ x: dex(m), y: dex(h), xlo: dex(lo), xhi: dex(hi) })),
      pointStyle: "rectRot",
      pointRadius: 5,
      backgroundColor: "#000",
      borderWidth: 0,
    },
    {
      kind: "det",
      data: detectionData(),
      pointRadius: 4.3,
      backgroundColor: PURPLE,
      borderWidth: 0,
    },
    {
      kind: "xbar",
      barColor: "rgba(255,0,0,0.8)",
      data: biswasGalaxies.map(([m, h, lo, hi]) => ({ x: dex(m), y: dex(h), xlo: dex(lo), xhi: dex(hi) })),
      pointRadius: 5.8,
      backgroundColor: BISWAS_RED,
      borderWidth: 0,
    },
    {
      kind: "plain",
      data: hutchensGalaxies.map(([m, h]) => ({ x: dex(m), y: dex(h) })),
      pointRadius: 2.5,
      backgroundColor: ORANGE,
      borderWidth: 0,
    },
  ];
}

type PanelProps = {
  top: number;
  height: number;
  padTop: number;
  padBottom: number;
  datasets: () => any[];
  legend: LegendRow[];
  legendX: number;
  legendY: number[];
  header: boolean;
};

function Panel(props: PanelProps) {
  const ref = useRef<HTMLCanvasElement>(null);
  useEffect(() => {
    const chart = new Chart(ref.current as HTMLCanvasElement, {
      type: "scatter",
      data: { datasets: props.datasets() as any },
      options: {
        animation: false,
        responsive: false,
        maintainAspectRatio: false,
        devicePixelRatio: 1,
        events: [],
        layout: { padding: { left: 157, right: 7, top: props.padTop, bottom: props.padBottom } },
        scales: scales() as any,
        plugins: { legend: { display: false }, tooltip: { enabled: false } },
      },
      plugins: [decorPlugin(props.legend, props.legendX, props.legendY, props.header) as any],
    });
    return () => chart.destroy();
  }, []);
  return (
    <canvas
      ref={ref}
      width={911}
      height={props.height}
      style={{ position: "absolute", left: 0, top: props.top, width: 911, height: props.height, display: "block" }}
    />
  );
}

const topLegend: LegendRow[] = [
  { mark: "dot", color: "rgb(150,45,235)", label: "Isolated Detections" },
  { mark: "arrow", color: "#000", label: "Isolated upperlimits" },
  { mark: "arrow", color: GREEN, label: "Group upperlimits" },
  { mark: "bar", color: "rgb(170,30,30)", label: "Groups with detections" },
];

const bottomLegend: LegendRow[] = [
  { mark: "dot", color: "rgb(150,45,235)", label: "DINGO detections" },
  { mark: "diamond", color: "#000", label: "SPARC (Lelli+16)" },
  { mark: "bigdot", color: BISWAS_RED, label: "Biswas+23" },
  { mark: "dot", color: "rgb(255,165,0)", label: "Hutchens+23" },
];

export default function App() {
  return (
    <div style={{ position: "absolute", left: 0, top: 0, width: 911, height: 1199, background: "#fff" }}>
      <Panel
        top={0}
        height={640}
        padTop={100}
        padBottom={82}
        datasets={topDatasets}
        legend={topLegend}
        legendX={617}
        legendY={[443, 467, 490, 513]}
        header={true}
      />
      <Panel
        top={640}
        height={559}
        padTop={37}
        padBottom={62}
        datasets={bottomDatasets}
        legend={bottomLegend}
        legendX={663}
        legendY={[364, 388, 412, 434]}
        header={false}
      />
    </div>
  );
}
